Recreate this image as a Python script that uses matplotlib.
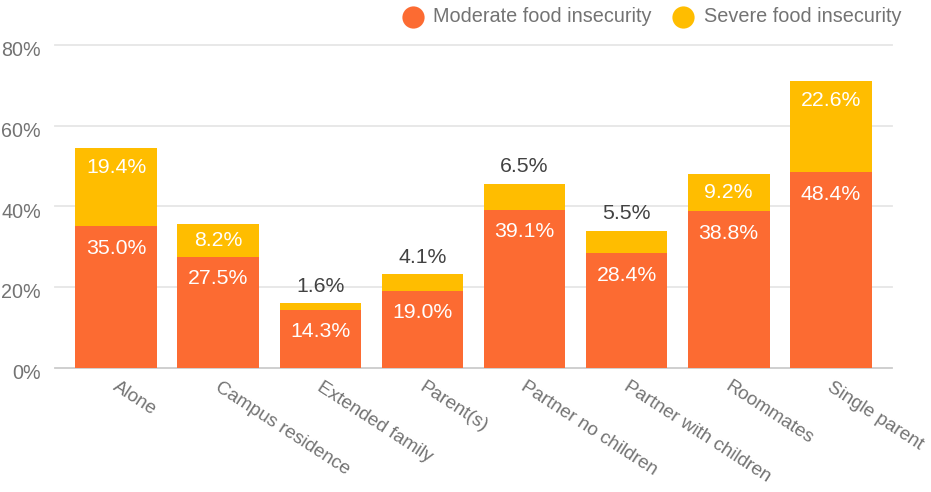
import matplotlib
matplotlib.use("Agg")
import matplotlib.pyplot as plt
from matplotlib.lines import Line2D
from matplotlib.transforms import ScaledTranslation

categories = ["Alone", "Campus residence", "Extended family", "Parent(s)",
              "Partner no children", "Partner with children", "Roommates",
              "Single parent"]
moderate = [35.0, 27.5, 14.3, 19.0, 39.1, 28.4, 38.8, 48.4]
severe = [19.4, 8.2, 1.6, 4.1, 6.5, 5.5, 9.2, 22.6]
series_names = ["Moderate food insecurity", "Severe food insecurity"]
y_ticks = [0, 20, 40, 60, 80]

ORANGE = "#FC6B32"
YELLOW = "#FFBD00"
AXIS_GRAY = "#737373"
DARK = "#424242"

plt.rcParams["font.family"] = ["Liberation Sans", "DejaVu Sans"]

W, H, DPI = 931, 492, 100
fig = plt.figure(figsize=(W / DPI, H / DPI), dpi=DPI)
left_px, right_px, top_px, bottom_px = 55, 892, 45, 367.5
ax = fig.add_axes([left_px / W, 1 - bottom_px / H,
                   (right_px - left_px) / W, (bottom_px - top_px) / H])

x = list(range(len(categories)))
ax.bar(x, moderate, width=0.8, color=ORANGE, zorder=3)
ax.bar(x, severe, width=0.8, bottom=moderate, color=YELLOW, zorder=3)

ax.set_xlim(-0.6, len(categories) - 0.4)
ax.set_ylim(0, 80)
px_per_unit = (bottom_px - top_px) / 80

# grid and baseline
for t in y_ticks:
    ax.axhline(t, color="#CCCCCC" if t == 0 else "#E6E6E6",
               lw=1.3, zorder=1, clip_on=False)

for s in ax.spines.values():
    s.set_visible(False)
ax.set_yticks(y_ticks)
ax.set_yticklabels([f"{t}%" for t in y_ticks], color=AXIS_GRAY, fontsize=14.2)
ax.tick_params(axis="y", length=0, pad=10)
shift_down = ScaledTranslation(0, -4 / DPI, fig.dpi_scale_trans)
for lbl in ax.get_yticklabels():
    lbl.set_transform(lbl.get_transform() + shift_down)
ax.set_xticks(x)
ax.set_xticklabels([])
ax.tick_params(axis="x", length=0)

# slanted category labels
for xi, name in zip(x, categories):
    ax.annotate(name, (xi, 0), xytext=(3, -11), textcoords="offset pixels",
                rotation=-33, rotation_mode="anchor", ha="left", va="top",
                fontsize=13.6, color=AXIS_GRAY, annotation_clip=False)

# value labels
LABEL_SIZE = 15.3
for xi, m, s in zip(x, moderate, severe):
    ax.annotate(f"{m:.1f}%", (xi, m), xytext=(0, -22),
                textcoords="offset pixels", ha="center", va="center",
                fontsize=LABEL_SIZE, color="white", zorder=5)
    seg_px = s * px_per_unit
    top = m + s
    if seg_px >= 30:
        off = min(19, seg_px / 2)
        ax.annotate(f"{s:.1f}%", (xi, top), xytext=(0, -off),
                    textcoords="offset pixels", ha="center", va="center",
                    fontsize=LABEL_SIZE, color="white", zorder=5)
    else:
        ax.annotate(f"{s:.1f}%", (xi, top), xytext=(0, 17),
                    textcoords="offset pixels", ha="center", va="center",
                    fontsize=LABEL_SIZE, color=DARK, zorder=5)

# legend across the top right
legend_items = [(413, 433, ORANGE, series_names[0]),
                (683, 704, YELLOW, series_names[1])]
ly = 1 - 17 / H
for cx, tx, col, label in legend_items:
    fig.add_artist(Line2D([cx / W], [ly], transform=fig.transFigure,
                          marker="o", markersize=16, color=col,
                          markeredgewidth=0, linestyle="none"))
    fig.text(tx / W, ly, label, ha="left", va="center",
             fontsize=14.3, color=AXIS_GRAY)

fig.savefig("out.png", dpi=DPI)
